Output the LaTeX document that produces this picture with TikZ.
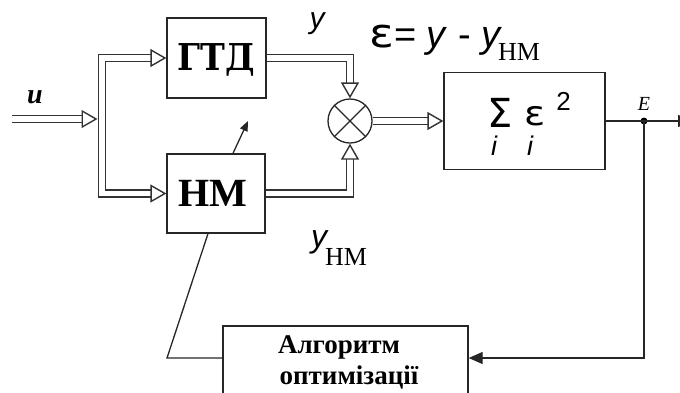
\documentclass[tikz,border=0pt]{standalone}
\usepackage{fontspec}
\usepackage{graphicx}
\setmainfont{Liberation Serif}
\newfontfamily\sansf{Liberation Sans}
\newfontfamily\djv{DejaVu Sans}
\newfontfamily\slabf{DejaVu Serif Condensed}
\usetikzlibrary{arrows.meta,calc}
\begin{document}
\begin{tikzpicture}[x=1pt,y=-1pt,
  blk/.style={draw=black!85,line width=1.3pt,inner sep=0pt},
  dbl/.style={draw=black!80,line width=1.4pt,double=white,double distance=5.5pt},
  sgl/.style={draw=black!85,line width=1.3pt},
  otip/.style={-{Triangle[open,length=16pt,width=18pt]}},
  btip/.style={{Triangle[open,length=16pt,width=18pt]}-{Triangle[open,length=16pt,width=18pt]}},
  ftip/.style={-{Triangle[length=14pt,width=12pt]}},
  atip/.style={-{Triangle[length=10pt,width=8pt]}},
  txt/.style={anchor=base,inner sep=0pt}
]
\useasboundingbox (0,0) rectangle (680,392);
\clip (0,0) rectangle (680,392);

% blocks
\node[blk,minimum width=99pt,minimum height=80pt] (gtd) at (216.5,58) {};
\node[blk,minimum width=98pt,minimum height=79pt] (nm) at (216,193.5) {};
\node[blk,circle,minimum size=44pt] (mult) at (350,121) {};
\node[blk,minimum width=161pt,minimum height=97pt] (sum) at (524.5,121) {};
\node[blk,minimum width=245pt,minimum height=74pt] (alg) at (345.5,363) {};
\node[circle,fill=black,inner sep=0pt,minimum size=7pt] (dotE) at (644,121) {};

\draw[sgl] (mult.north west) -- (mult.south east);
\draw[sgl] (mult.north east) -- (mult.south west);

% coordinates
\coordinate (uin) at (12,119);
\coordinate (busin) at (97.5,119);
\coordinate (bus) at (102,119);
\coordinate (eout) at (692,121);
\coordinate (lcorner) at (167,358);
\coordinate (adj) at (248,121);

% double-line connectors
\draw[dbl,otip] (uin) -- (busin);
\draw[dbl,btip] (gtd.west) -| (bus) |- (nm.west);
\draw[dbl,otip] (gtd.east) -| (mult.north);
\draw[dbl,otip] (nm.east) -| (mult.south);
\draw[dbl,otip] (mult.east) -- (sum.west);

% single-line connectors
\draw[sgl,ftip] (sum.east) -- (eout);
\draw[sgl,ftip] (dotE.center) |- ([yshift=5pt]alg.east);
\draw[sgl] ([xshift=-8pt]nm.south) -- (lcorner) -- ([yshift=5pt]alg.west);
\draw[sgl,atip] ([xshift=17pt]nm.north) -- (adj);

% texts
\node[txt,font=\slabf\bfseries\fontsize{37}{37}\selectfont] (gtdl) at (216.5,70) {ГТД};
\node[txt,font=\bfseries\fontsize{40}{40}\selectfont] (nml) at (213,206) {НМ};
\node[txt,font=\bfseries\itshape\fontsize{28}{28}\selectfont] (ul) at (35,103) {u};
\node[txt,font=\sansf\itshape\fontsize{30}{30}\selectfont] (yl) at (317,28) {y};
\node[anchor=base west,inner sep=0pt,font=\sansf\fontsize{38}{38}\selectfont] (eps) at (369,47) {{\djv\fontsize{40}{40}\selectfont\scalebox{1.15}[1]{ε}}= \textit{y} - \textit{y}};
\node[anchor=base west,inner sep=0pt,font=\fontsize{26}{26}\selectfont] (epshm) at (498,60) {HM};
\node[txt,font=\itshape\fontsize{20}{20}\selectfont] (El) at (644,110) {E};
\node[txt,text depth=0pt,font=\djv\fontsize{40}{40}\selectfont] (sig) at (500,127) {\symbol{"03A3}};
\node[txt,font=\sansf\itshape\fontsize{27}{27}\selectfont] (i1) at (494,155) {i};
\node[txt,text depth=0pt,font=\djv\fontsize{34}{34}\selectfont] (eps2) at (535.5,125) {\scalebox{1.15}[1]{ε}};
\node[txt,font=\sansf\itshape\fontsize{27}{27}\selectfont] (i2) at (530,155) {i};
\node[txt,font=\sansf\fontsize{26}{26}\selectfont] (sq) at (563.5,110) {2};
\node[txt,font=\sansf\itshape\fontsize{32}{32}\selectfont] (yhm) at (319,247) {y};
\node[anchor=base west,inner sep=0pt,font=\fontsize{26}{26}\selectfont] (yhmsub) at (325,265) {HM};
\node[txt,font=\bfseries\fontsize{27}{27}\selectfont] (alg1) at (339,353) {Алгоритм};
\node[txt,font=\bfseries\fontsize{27}{27}\selectfont] (alg2) at (349,384) {оптимізації};
\end{tikzpicture}
\end{document}
